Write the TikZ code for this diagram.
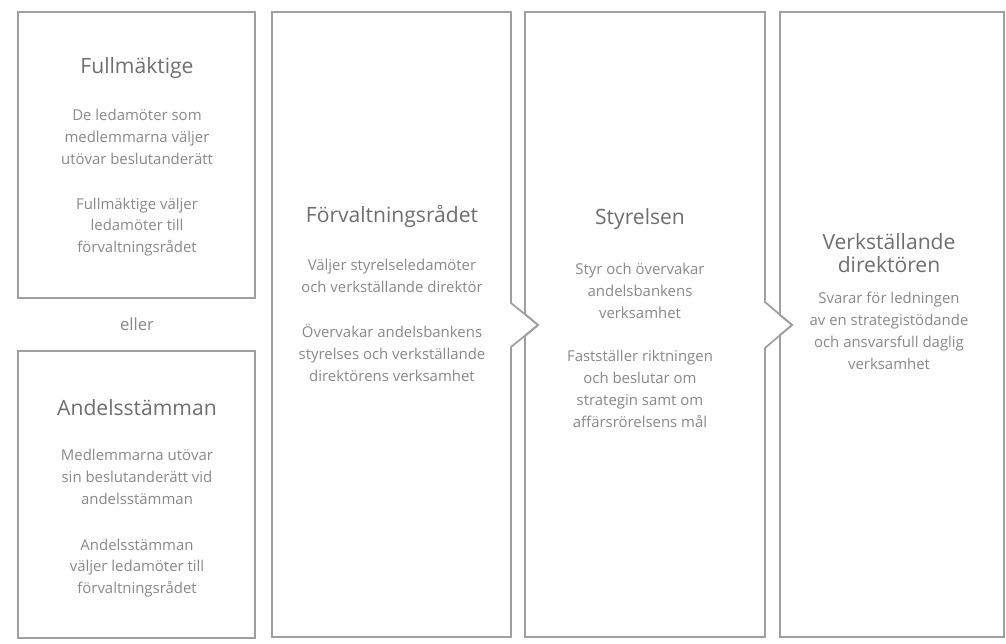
\documentclass[tikz,border=0pt]{standalone}
\usepackage{fontspec}
\setmainfont{Open Sans}
\definecolor{framegray}{HTML}{A0A0A0}
\definecolor{titlegray}{HTML}{6E6E6E}
\definecolor{bodygray}{HTML}{888888}
\tikzset{
  frame/.style={draw=framegray, line width=1pt, line join=miter},
  title/.style={text=titlegray, inner sep=0pt, align=center, font=\fontsize{12}{13}\selectfont},
  body/.style={text=bodygray, inner sep=0pt, align=center, font=\fontsize{8.5}{12.4}\selectfont}
}
\begin{document}
\begin{tikzpicture}[x=0.02cm, y=-0.02cm]
\useasboundingbox (0,0) rectangle (1006,643);

\coordinate (Fu) at (137,68);
\coordinate (An) at (137,408);
\coordinate (Fo) at (392,216);
\coordinate (St) at (640,219);
\coordinate (Vd) at (889,253);

% left column: two boxes
\draw[frame] (18,12) rectangle (255,298);
\draw[frame] (18,351) rectangle (255,638);

% Förvaltningsrådet, chevron to the right
\draw[frame] (511,303) -- (511,12) -- (272,12) -- (272,637) -- (511,637) -- (511,347) -- (538,325) -- cycle;
% Styrelsen
\draw[frame] (525,12) -- (765,12) -- (765,302) -- (792,325) -- (765,348) -- (765,637)
  -- (525,637) -- (525,336) -- (538,325) -- (525,314) -- cycle;
% Verkställande direktören
\draw[frame] (780,12) -- (1004,12) -- (1004,637) -- (780,637) -- (780,335) -- (792,325) -- (780,315) -- cycle;

\node[title] (fulltitle) at (Fu) {Fullmäktige};
\node[body] (fulla) at (137,137) {De ledamöter som\\medlemmarna väljer\\utövar beslutanderätt};
\node[body] (fullb) at (137,227) {Fullmäktige väljer\\ledamöter till\\förvaltningsrådet};

\node[body, font=\fontsize{9.5}{12}\selectfont] (eller) at (137,324) {eller};

\node[title] (andeltitle) at (An) {Andelsstämman};
\node[body] (andela) at (137,477) {Medlemmarna utövar\\sin beslutanderätt vid\\andelsstämman};
\node[body] (andelb) at (137,568) {Andelsstämman\\väljer ledamöter till\\förvaltningsrådet};

\node[title] (forvtitle) at (Fo) {Förvaltningsrådet};
\node[body] (forva) at (392,276) {Väljer styrelseledamöter\\och verkställande direktör};
\node[body] (forvb) at (392,353) {Övervakar andelsbankens\\styrelses och verkställande\\direktörens verksamhet};

\node[title] (styrtitle) at (St) {Styrelsen};
\node[body] (styra) at (640,291) {Styr och övervakar\\andelsbankens\\verksamhet};
\node[body] (styrb) at (640,389) {Fastställer riktningen\\och beslutar om\\strategin samt om\\affärsrörelsens mål};

\node[title] (vdtitle) at (Vd) {Verkställande\\direktören};
\node[body] (vdbody) at (889,331) {Svarar för ledningen\\av en strategistödande\\och ansvarsfull daglig\\verksamhet};
\end{tikzpicture}
\end{document}
